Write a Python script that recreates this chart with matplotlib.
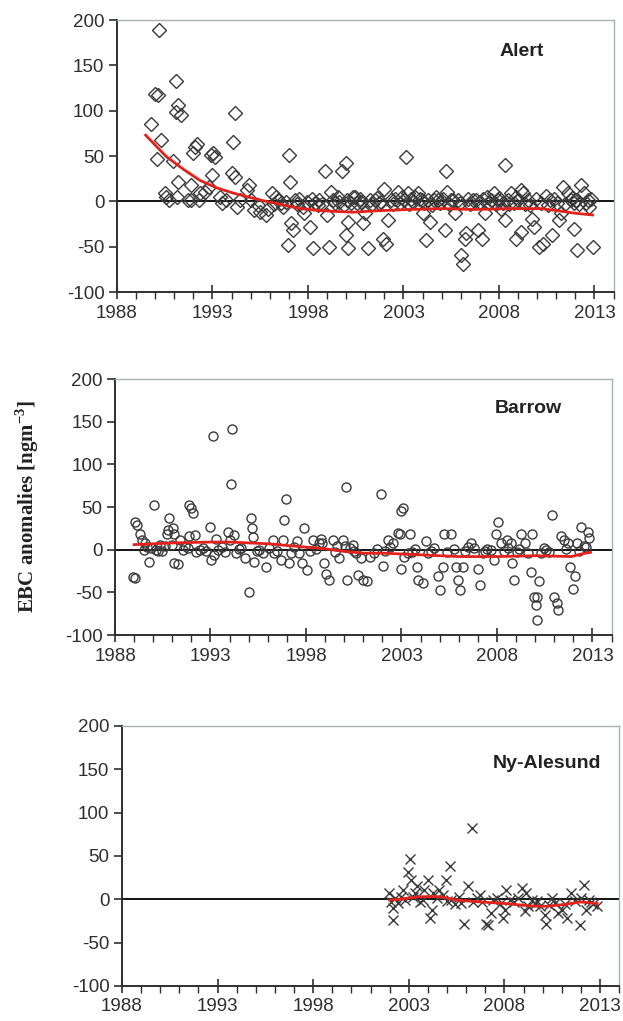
import numpy as np
import matplotlib
matplotlib.use("Agg")
import matplotlib.pyplot as plt
from matplotlib.ticker import MultipleLocator

# EBC anomalies: (decimal year, ng m-3)

# Alert (diamonds)
alert_year = [1989.8, 1990.0, 1990.15, 1990.2, 1990.3, 1990.1, 1990.5, 1990.55, 1990.7, 1990.95,
              1991.07, 1991.1, 1991.2, 1991.33, 1991.2, 1991.15, 1991.7, 1991.85, 1991.85, 1992.0,
              1992.1, 1992.2, 1992.35, 1992.3, 1992.6, 1992.8, 1992.9, 1993.05, 1993.15, 1992.95,
              1993.4, 1993.5, 1993.7, 1994.0, 1994.1, 1994.2, 1994.2, 1994.3, 1994.45, 1994.8,
              1994.9, 1995.0, 1995.15, 1995.4, 1995.5, 1995.8, 1995.9, 1996.1, 1996.35, 1996.6,
              1996.7, 1996.95, 1997.0, 1997.05, 1997.1, 1997.2, 1997.55, 1997.75, 1997.8, 1998.1,
              1998.25, 1998.5, 1998.6, 1998.9, 1999.0, 1999.1, 1999.2, 1999.4, 1999.55, 1999.8,
              2000.0, 2000.0, 2000.1, 2000.1, 2000.35, 2000.02, 2000.45, 2000.55, 2001.0, 2000.9,
              2001.15, 2001.5, 2001.7, 2002.0, 2002.2, 2001.95, 2002.1, 2002.7, 2002.9, 2003.15,
              2003.25, 2003.4, 2003.6, 2003.75, 2003.95, 2004.0, 2004.2, 2004.4, 2004.6, 2004.7,
              2005.15, 2005.25, 2005.3, 2005.5, 2005.7, 2005.85, 2006.0, 2006.1, 2006.2, 2006.3,
              2006.65, 2006.9, 2007.1, 2007.25, 2007.4, 2007.75, 2007.95, 2008.1, 2008.3, 2008.3,
              2008.65, 2008.9, 2009.0, 2009.15, 2009.25, 2008.9, 2009.15, 2009.75, 2009.85, 2010.1,
              2010.3, 2010.45, 2010.65, 2010.8, 2011.15, 2011.25, 2011.35, 2011.6, 2011.75, 2011.95,
              2011.95, 2012.1, 2012.3, 2012.45, 2012.65, 2012.7, 2012.9,
              1996.2, 1996.45, 1996.85, 1997.3, 1997.4, 1997.95, 1998.2, 1998.35, 1998.75, 1999.3,
              1999.65, 1999.9, 2000.25, 2000.7, 2000.8, 2001.25, 2001.35, 2001.6, 2001.85, 2002.35,
              2002.45, 2002.55, 2002.8, 2003.05, 2003.3, 2003.5, 2003.85, 2004.1, 2004.3, 2004.5,
              2004.8, 2004.9, 2005.05, 2005.4, 2005.6, 2005.95, 2006.4, 2006.5, 2006.8, 2007.0,
              2007.15, 2007.5, 2007.6, 2007.85, 2008.0, 2008.2, 2008.45, 2008.55, 2008.8, 2009.35,
              2009.5, 2009.6, 2009.95, 2010.2, 2010.55, 2010.9, 2011.05, 2011.45, 2011.85, 2012.05,
              2012.2, 2012.55, 2012.8]
alert_val = [85, 118, 117, 189, 68, 47, 9, 5, 2, 45,
             98, 133, 106, 95, 21, 5, 1, 2, 18, 53,
             60, 63, 9, 1, 10, 16, 51, 53, 49, 29,
             5, -2, 1, 31, 65, 97, 27, -6, 1, 12,
             18, 1, -10, -4, -12, -15, -8, 9, 5, -2,
             -6, -48, 51, 21, -24, -32, 3, -6, -13, -28,
             -52, -4, 1, 33, -15, -50, 10, -2, 5, 34,
             42, -37, -52, -23, 5, 1, 5, -2, -13, -24,
             -52, 1, -2, 14, -21, -41, -47, 10, 5, 49,
             9, 3, 5, 9, 1, -13, -43, -23, 1, 5,
             -32, 33, 10, 1, -13, 1, -59, -69, -41, -35,
             1, -32, -41, -13, 5, 9, 1, -8, -21, 40,
             9, 5, 1, 12, 9, -41, -34, -19, -28, -50,
             -47, 6, 1, -37, -21, -13, 16, 9, 1, -2,
             -30, -54, 18, 9, 1, -6, -50,
             -3, 2, -1, 2, -3, -1, 3, -2, -3, 2,
             -1, -4, -2, 3, -1, 2, -3, 4, -1, 2,
             -3, 3, -2, 2, -3, -1, 3, -2, 2, -4,
             2, -2, 3, -3, 2, -2, 3, -3, 2, -1,
             3, -2, 2, -3, 4, -2, 2, -3, -2, -3,
             2, -4, 3, -2, -4, 3, -2, -3, 4, 2,
             -3, -2, 3]
alert_trend_year = [1989.5, 1990.0, 1990.6, 1991.5, 1992.35, 1993.2, 1994.1, 1995.0, 1995.8, 1996.7,
                    1997.55, 1998.5, 1999.3, 2000.35, 2001.5, 2003.25, 2005.0, 2006.7, 2008.5, 2010.2,
                    2011.1, 2011.95, 2012.4, 2012.9]
alert_trend_val = [73, 62, 49, 35, 23, 15, 9, 4, 0, -4,
                   -8, -10, -11, -12, -10.5, -9, -8, -9, -8, -8,
                   -10.5, -13, -14, -15]

# Barrow (circles)
barrow_year = [1989.05, 1989.15, 1989.3, 1988.95, 1989.05, 1989.5, 1989.55, 1989.4, 1989.8, 1990.05,
               1989.9, 1990.15, 1990.35, 1990.45, 1990.7, 1990.8, 1990.85, 1991.05, 1991.1, 1991.1,
               1991.3, 1991.0, 1991.4, 1991.55, 1991.65, 1991.9, 1992.0, 1992.1, 1991.85, 1992.2,
               1992.25, 1992.45, 1992.6, 1992.95, 1993.15, 1993.05, 1993.2, 1993.4, 1993.3, 1993.9,
               1994.0, 1994.15, 1994.05, 1994.25, 1994.35, 1994.6, 1994.8, 1995.0, 1995.1, 1995.15,
               1995.25, 1995.3, 1995.55, 1995.75, 1995.9, 1996.25, 1996.35, 1996.7, 1996.8, 1996.85,
               1996.95, 1997.1, 1997.2, 1997.55, 1997.65, 1997.9, 1997.8, 1998.05, 1998.35, 1998.7,
               1998.8, 1998.85, 1998.95, 1999.05, 1999.2, 1999.4, 1999.65, 1999.75, 2000.1, 2000.15,
               1999.95, 2000.45, 2000.6, 2000.05, 2000.75, 2001.0, 2001.2, 2000.5, 2000.9, 2001.35,
               2001.95, 2002.05, 2002.3, 2002.55, 2002.8, 2003.0, 2003.1, 2002.9, 2003.45, 2003.15,
               2003.35, 2003.0, 2003.85, 2004.15, 2004.3, 2004.4, 2003.8, 2004.9, 2005.0, 2005.25,
               2005.6, 2005.15, 2005.95, 2006.05, 2005.85, 2006.2, 2006.65, 2006.8, 2007.0, 2007.1,
               2007.35, 2007.7, 2007.95, 2008.05, 2007.85, 2008.2, 2008.5, 2008.75, 2008.9, 2008.8,
               2009.25, 2009.45, 2009.85, 2009.8, 2010.2, 2009.95, 2010.1, 2010.05, 2010.1, 2010.3,
               2010.55, 2010.9, 2011.0, 2011.15, 2011.2, 2011.35, 2011.5, 2011.7, 2011.85, 2012.1,
               2012.0, 2012.4, 2012.75, 2012.8, 2012.2, 2012.55,
               1989.7, 1990.25, 1990.6, 1991.8, 1992.75, 1993.6, 1993.75, 1994.5, 1995.45, 1996.05,
               1996.5, 1997.35, 1998.2, 1998.55, 1999.5, 2000.3, 2001.55, 2001.7, 2002.15, 2002.4,
               2003.55, 2003.7, 2004.55, 2004.7, 2005.4, 2005.75, 2006.35, 2006.5, 2007.25, 2007.5,
               2008.35, 2008.6, 2009.05, 2009.15, 2009.6, 2010.45, 2010.7, 2011.6, 2012.3, 2012.65]
barrow_val = [32, 29, 19, -32, -33, 0, 8, 12, -14, 53,
              2, 0, 6, -2, 19, 23, 37, 25, 19, -16,
              -17, 5, 12, 0, 4, 53, 49, 43, 16, 17,
              -3, 0, 2, 27, 133, -12, -6, 0, 13, 21,
              12, 141, 77, 17, -4, 2, -10, -49, 37, 25,
              15, -14, 0, -4, -20, 12, -4, -12, 12, 35,
              59, -16, -4, 10, -4, 25, -16, -24, 12, 8,
              13, 8, -15, -28, -35, 12, 4, -10, 73, -35,
              12, 6, -4, 4, -30, -35, -37, -2, -10, -8,
              65, -19, 12, 8, 20, 45, 49, 19, 19, -8,
              -4, -23, -35, -39, 10, -4, -20, -31, -47, 19,
              19, -20, -35, -47, -20, -20, 8, 2, -23, -41,
              -2, 0, 18, 33, -12, 8, 12, 8, -35, -16,
              19, 8, 19, -26, -37, -55, -55, -65, -82, -4,
              0, 41, -55, -63, -71, 16, 12, 8, -20, -31,
              -46, 27, 21, 14, 8, 4,
              3, -1, 4, 2, -2, 3, -3, 1, -2, 2,
              -1, 3, -2, 1, -3, 2, -4, 1, -2, 3,
              -3, 1, -2, 2, -3, 1, -2, 3, -4, 1,
              -2, 2, -3, 1, -4, 2, -3, 1, -2, 3]
barrow_trend_year = [1989.0, 1990.0, 1991.0, 1992.0, 1993.0, 1994.0, 1995.0, 1996.0, 1997.0, 1998.0,
                     1999.0, 2000.0, 2001.0, 2002.0, 2003.0, 2004.0, 2005.0, 2006.0, 2007.0, 2008.0,
                     2009.0, 2010.0, 2011.0, 2011.9, 2012.4, 2012.9]
barrow_trend_val = [6, 7, 8, 8.5, 9, 9, 8, 7, 5, 3,
                    1, -2, -4, -4, -5, -6, -7, -8, -8, -8,
                    -7.5, -7, -7.5, -8, -5, -3]

# Ny-Alesund (crosses)
ny_year = [2001.98, 2002.07, 2002.15, 2002.15, 2002.7, 2002.8, 2002.6, 2002.95, 2003.05, 2003.1,
           2003.3, 2003.45, 2003.75, 2003.8, 2004.0, 2004.2, 2004.1, 2004.25, 2004.6, 2004.8,
           2004.95, 2005.15, 2005.2, 2005.4, 2005.9, 2006.1, 2006.3, 2006.35, 2006.7, 2007.05,
           2007.15, 2007.3, 2007.4, 2007.95, 2008.05, 2008.1, 2008.3, 2008.9, 2009.15, 2009.1,
           2009.25, 2009.45, 2009.85, 2010.1, 2010.2, 2010.5, 2010.8, 2011.0, 2011.25, 2011.5,
           2011.95, 2012.15, 2012.25, 2012.4, 2012.65, 2012.85,
           2002.3, 2002.45, 2003.2, 2003.6, 2004.45, 2005.0, 2005.6, 2005.75, 2006.55, 2006.85,
           2007.6, 2007.75, 2008.5, 2008.7, 2009.6, 2009.7, 2010.35, 2010.65, 2011.15, 2011.7,
           2012.0, 2012.55]
ny_val = [7, -3, -10, -24, 11, -1, 3, 32, 47, 22,
          7, 15, -1, 11, 22, -12, -22, 7, 11, 5,
          22, 38, -1, -5, -28, 15, 82, -3, 5, -28,
          -30, -16, -1, -22, -12, 11, -1, 13, 7, -14,
          -8, -1, -8, -18, -28, 1, -16, -12, -22, 7,
          -30, 17, -12, -1, -5, -8,
          2, -4, 3, -3, 2, -2, 3, -4, 1, -3,
          2, -5, -3, 1, -6, -2, -7, -4, -5, -2,
          1, -3]
ny_trend_year = [2002.0, 2002.8, 2003.55, 2004.6, 2005.5, 2006.7, 2008.1, 2009.5, 2010.2, 2011.1,
                 2011.95, 2012.85]
ny_trend_val = [-1, 1, 3, 3, -1, -3, -5, -8, -8, -6, -3, -5]

station_names = ["Alert", "Barrow", "Ny-Alesund"]
year_ticks = [1988, 1993, 1998, 2003, 2008, 2013]
val_ticks = [-100, -50, 0, 50, 100, 150, 200]

plt.rcParams['font.family'] = ['Liberation Sans', 'DejaVu Sans']
plt.rcParams['axes.unicode_minus'] = False
plt.rcParams['mathtext.fontset'] = 'custom'
plt.rcParams['mathtext.rm'] = 'Liberation Serif:bold'
plt.rcParams['mathtext.bf'] = 'Liberation Serif:bold'

fig = plt.figure(figsize=(6.23, 10.21), dpi=100)

# panel rectangles (the scan is a bit skewed, so they differ slightly)
rects = [[0.1878, 0.714, 0.797, 0.2664],
         [0.1846, 0.378, 0.797, 0.2507],
         [0.1958, 0.0343, 0.798, 0.2547]]

series = [
    (alert_year, alert_val, alert_trend_year, alert_trend_val, 'D', 7, (0.86, 0.883)),
    (barrow_year, barrow_val, barrow_trend_year, barrow_trend_val, 'o', 6.5, (0.90, 0.887)),
    (ny_year, ny_val, ny_trend_year, ny_trend_val, 'x', 6.5, (0.964, 0.857)),
]

ink = '#2f2f2f'
for rect, name, (xs, ys, tx, ty, mk, ms, lab_pos) in zip(rects, station_names, series):
    ax = fig.add_axes(rect)
    ax.axhline(0, color='black', lw=1.3, zorder=1)
    if mk == 'x':
        ax.plot(xs, ys, ls='none', marker='x', ms=ms, mew=1.0, color='#3a3a3a', zorder=2)
    else:
        ax.plot(xs, ys, ls='none', marker=mk, ms=ms, mfc='none', mec='#3a3a3a', mew=1.0, zorder=2)
    ax.plot(tx, ty, color='#e3221c', lw=2.0, zorder=3)

    ax.set_xlim(1988, 2014)
    ax.set_ylim(-100, 200)
    ax.set_xticks(year_ticks)
    ax.xaxis.set_minor_locator(MultipleLocator(1))
    ax.set_yticks(val_ticks)
    ax.tick_params(axis='x', which='major', direction='inout', length=10, width=1.2,
                   colors=ink, labelsize=13.5, pad=4)
    ax.tick_params(axis='x', which='minor', direction='out', length=5, width=1.0, colors=ink)
    ax.tick_params(axis='y', which='major', direction='out', length=6, width=1.2,
                   colors=ink, labelsize=13.5, pad=3)
    for s in ['left', 'bottom']:
        ax.spines[s].set_color(ink)
        ax.spines[s].set_linewidth(1.4)
    for s in ['top', 'right']:
        ax.spines[s].set_color('#a9b2b0')
        ax.spines[s].set_linewidth(1.0)
    ax.text(lab_pos[0], lab_pos[1], name, transform=ax.transAxes, ha='right', va='center',
            fontsize=14, fontweight='bold', color='#222222')

fig.text(0.044, 1 - 507 / 1021, r'EBC anomalies [ngm$^{-3}$]', rotation=90,
         ha='center', va='center', fontsize=15, fontweight='bold', family='Liberation Serif',
         color='#222222')

fig.savefig('out.png', dpi=100)
